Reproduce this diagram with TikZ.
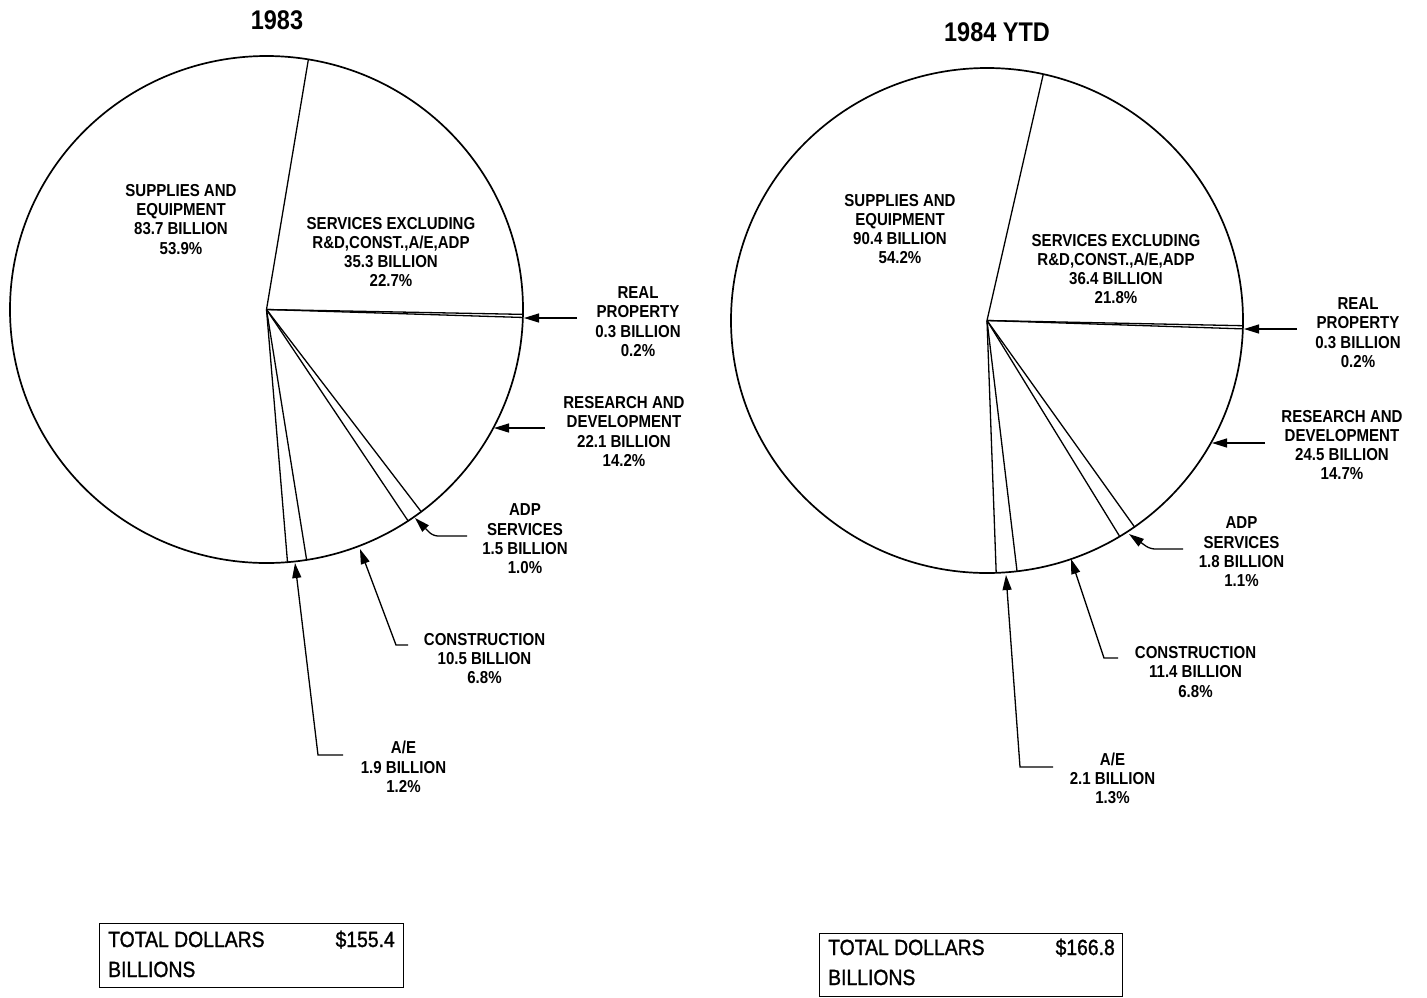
\documentclass[tikz,border=0pt]{standalone}
\usepackage{fontspec}
\setmainfont[FakeStretch=0.9]{Liberation Sans}
\newfontfamily\lblfont[FakeStretch=0.87,UprightFont={* Bold}]{Liberation Sans}
\newfontfamily\totfont[FakeStretch=0.88,FakeBold=1.2]{Liberation Sans}
\usetikzlibrary{arrows.meta}
\begin{document}
\begin{tikzpicture}[x=1pt,y=-1pt,
  pie/.style={line width=1.3pt},
  rim/.style={line width=1.7pt},
  lbl/.style={font=\lblfont\fontsize{17.3}{19.3}\selectfont, align=center, inner sep=0pt},
  ttl/.style={font=\lblfont\fontsize{27}{30}\selectfont, inner sep=0pt},
  tot/.style={font=\totfont\fontsize{22}{24}\selectfont, inner sep=0pt},
  ptr/.style={line width=1.3pt, -{Triangle[length=15pt,width=9pt]}},
  frame/.style={draw, line width=1.2pt, inner sep=0pt, anchor=north west}
]
\useasboundingbox (0,0) rectangle (1427,997);

% ---------- left pie (1983) ----------
\node[ttl] (ttlA) at (277,20) {1983};
\coordinate (cA) at (266.5,309.5);
\draw[rim] (cA) ellipse [x radius=256.5pt, y radius=253.5pt];
\foreach \a in {80.6,-1.1,-1.8,-52.9,-56.5,-81.0,-85.3}
  \draw[pie] (cA) -- ({266.5+256.5*cos(\a)},{309.5-253.5*sin(\a)});

\node[lbl] (supA) at (181,219.3) {SUPPLIES AND\\EQUIPMENT\\83.7 BILLION\\53.9\%};
\node[lbl] (srvA) at (391,252) {SERVICES EXCLUDING\\R\&D,CONST.,A/E,ADP\\35.3 BILLION\\22.7\%};
\node[lbl] (rpA) at (638,321.5) {REAL\\PROPERTY\\0.3 BILLION\\0.2\%};
\node[lbl] (rdA) at (624,431.5) {RESEARCH AND\\DEVELOPMENT\\22.1 BILLION\\14.2\%};
\node[lbl] (adpA) at (525,539) {ADP\\SERVICES\\1.5 BILLION\\1.0\%};
\node[lbl] (conA) at (484.5,658.5) {CONSTRUCTION\\10.5 BILLION\\6.8\%};
\node[lbl] (aeA) at (403.5,767) {A/E\\1.9 BILLION\\1.2\%};

\coordinate (rpAs) at (577,318); \coordinate (rpAt) at (524,318);
\coordinate (rdAs) at (545,428); \coordinate (rdAt) at (494,428);
\coordinate (adpAs) at (467,536); \coordinate (adpAb) at (433,536); \coordinate (adpAt) at (415,518);
\coordinate (conAs) at (408,645); \coordinate (conAb) at (396,645); \coordinate (conAt) at (360,549);
\coordinate (aeAs) at (343,755); \coordinate (aeAb) at (318,755); \coordinate (aeAt) at (295,563);
\draw[ptr] (rpAs) -- (rpAt);
\draw[ptr] (rdAs) -- (rdAt);
\draw[ptr, rounded corners=5pt] (adpAs) -- (adpAb) -- (adpAt);
\draw[ptr] (conAs) -- (conAb) -- (conAt);
\draw[ptr] (aeAs) -- (aeAb) -- (aeAt);

\node[frame, minimum width=304pt, minimum height=64pt] (boxA) at (99,923) {};
\node[tot, anchor=base west] (totA) at (108,947) {TOTAL DOLLARS};
\node[tot, anchor=base east] (valA) at (395,947) {\$155.4};
\node[tot, anchor=base west] (bilA) at (108,977) {BILLIONS};

% ---------- right pie (1984 YTD) ----------
\node[ttl] (ttlB) at (997,32) {1984 YTD};
\coordinate (cB) at (987,320.5);
\draw[rim] (cB) ellipse [x radius=256pt, y radius=252.5pt];
\foreach \a in {77.3,-1.18,-1.9,-54.82,-58.78,-83.26,-87.94}
  \draw[pie] (cB) -- ({987+256*cos(\a)},{320.5-252.5*sin(\a)});

\node[lbl] (supB) at (900,229) {SUPPLIES AND\\EQUIPMENT\\90.4 BILLION\\54.2\%};
\node[lbl] (srvB) at (1116,269) {SERVICES EXCLUDING\\R\&D,CONST.,A/E,ADP\\36.4 BILLION\\21.8\%};
\node[lbl] (rpB) at (1358,332.5) {REAL\\PROPERTY\\0.3 BILLION\\0.2\%};
\node[lbl] (rdB) at (1342,445) {RESEARCH AND\\DEVELOPMENT\\24.5 BILLION\\14.7\%};
\node[lbl] (adpB) at (1241.5,552) {ADP\\SERVICES\\1.8 BILLION\\1.1\%};
\node[lbl] (conB) at (1195.5,672) {CONSTRUCTION\\11.4 BILLION\\6.8\%};
\node[lbl] (aeB) at (1112.5,778.5) {A/E\\2.1 BILLION\\1.3\%};

\coordinate (rpBs) at (1297,329); \coordinate (rpBt) at (1244,329);
\coordinate (rdBs) at (1265,443); \coordinate (rdBt) at (1212,443);
\coordinate (adpBs) at (1183,549); \coordinate (adpBb) at (1150,549); \coordinate (adpBt) at (1129,534);
\coordinate (conBs) at (1118,658); \coordinate (conBb) at (1104,658); \coordinate (conBt) at (1071,559);
\coordinate (aeBs) at (1053,767); \coordinate (aeBb) at (1020,767); \coordinate (aeBt) at (1006,575);
\draw[ptr] (rpBs) -- (rpBt);
\draw[ptr] (rdBs) -- (rdBt);
\draw[ptr, rounded corners=5pt] (adpBs) -- (adpBb) -- (adpBt);
\draw[ptr] (conBs) -- (conBb) -- (conBt);
\draw[ptr] (aeBs) -- (aeBb) -- (aeBt);

\node[frame, minimum width=303pt, minimum height=63pt] (boxB) at (819,933) {};
\node[tot, anchor=base west] (totB) at (828,955) {TOTAL DOLLARS};
\node[tot, anchor=base east] (valB) at (1115,955) {\$166.8};
\node[tot, anchor=base west] (bilB) at (828,985) {BILLIONS};
\end{tikzpicture}
\end{document}
